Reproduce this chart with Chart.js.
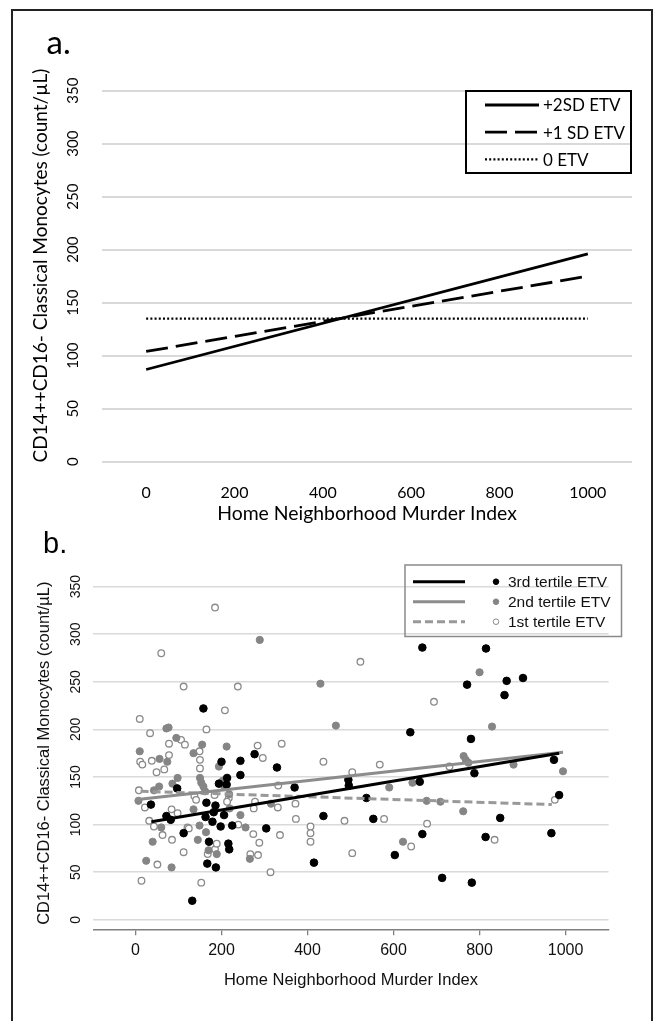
<!DOCTYPE html>
<html>
<head>
<meta charset="utf-8">
<script src="https://cdn.jsdelivr.net/npm/chart.js@4.4.0/dist/chart.umd.min.js"></script>
<style>
  html, body { margin: 0; padding: 0; background: #fff; }
  #frame { position: absolute; left: 11px; top: 9px; width: 642px; height: 1040px; border: 2px solid #222; box-sizing: border-box; }
  canvas { position: absolute; left: 0; }
  #ca { top: 0; }
  #cb { top: 520px; }
</style>
</head>
<body>
<div id="frame"></div>
<canvas id="ca" width="654" height="530"></canvas>
<canvas id="cb" width="654" height="501"></canvas>
<script>
"use strict";

// ---- shared axis ticks ----
var xTickValues = [0, 200, 400, 600, 800, 1000];
var yTickValues = [0, 50, 100, 150, 200, 250, 300, 350];
var xTitle = "Home Neighborhood Murder Index";
var yTitle = "CD14++CD16- Classical Monocytes (count/\u00b5L)";

// ---- panel a: simple slopes ----
var slopeX = [0, 1000];
var sd2Values = [87, 196];
var sd1Values = [104, 175];
var zeroValues = [135, 135];

// ---- panel b: fitted lines ----
var fit3X = [37, 985],  fit3Y = [103, 175];
var fit2X = [0, 994],   fit2Y = [126, 176];
var fit1X = [12, 968],  fit1Y = [135, 121];

// ---- panel b: observations, 3rd tertile ETV ----
var t3X = [158, 277, 200, 244, 329, 244, 213, 194, 212, 97, 36, 165, 186, 182, 163, 206, 179, 72, 82, 112,
           198, 225, 304, 171, 216, 218, 167, 187, 132, 667, 639, 495, 496, 661, 370, 537, 437, 553, 667, 415,
           603, 713, 815, 771, 863, 901, 858, 780, 788, 973, 985, 848, 814, 967, 782];
var t3Y = [222, 174, 166, 167, 160, 152, 149, 143, 142, 138, 121, 123, 120, 113, 108, 110, 103, 109, 105, 91,
           98, 99, 96, 82, 80, 74, 59, 55, 20, 286, 197, 147, 141, 145, 139, 128, 109, 106, 90, 60,
           68, 44, 285, 247, 251, 254, 236, 190, 154, 168, 131, 107, 87, 91, 39];

// ---- 2nd tertile ETV ----
var t2X = [289, 72, 77, 95, 155, 212, 10, 135, 56, 74, 194, 98, 150, 153, 7, 43, 55, 86, 158, 162,
           203, 207, 218, 40, 25, 84, 145, 170, 189, 266, 256, 244, 149, 135, 60, 219, 164, 315, 430, 466,
           590, 644, 677, 709, 622, 800, 829, 763, 768, 774, 879, 994, 762];
var t2Y = [294, 201, 202, 191, 184, 182, 177, 175, 169, 166, 161, 149, 149, 144, 125, 136, 140, 143, 140, 135,
           146, 140, 132, 82, 62, 55, 84, 73, 69, 64, 97, 110, 99, 116, 97, 117, 92, 122, 248, 204,
           139, 144, 125, 124, 82, 260, 203, 172, 168, 165, 163, 156, 114];

// ---- 1st tertile ETV ----
var t1X = [185, 60, 112, 238, 208, 10, 165, 34, 106, 115, 78, 284, 340, 78, 149, 296, 11, 38, 16, 49,
           67, 150, 150, 8, 22, 84, 98, 32, 43, 121, 63, 85, 51, 14, 153, 112, 314, 267, 285, 288,
           274, 336, 331, 275, 278, 239, 124, 184, 185, 189, 168, 217, 213, 332, 372, 373, 437, 407, 407, 407,
           504, 486, 504, 523, 568, 578, 641, 694, 678, 730, 835, 975, 137, 141];
var t1Y = [328, 280, 245, 245, 220, 211, 200, 196, 189, 184, 185, 183, 185, 173, 177, 170, 166, 167, 163, 155,
           158, 168, 159, 136, 118, 116, 112, 104, 98, 97, 89, 84, 58, 41, 39, 71, 50, 69, 68, 81,
           90, 89, 118, 117, 124, 100, 96, 131, 74, 80, 69, 128, 124, 141, 122, 106, 166, 98, 91, 82,
           155, 104, 70, 271, 163, 106, 77, 229, 101, 161, 84, 126, 130, 126];

function pts(xs, ys) {
    return xs.map(function (x, i) { return { x: x, y: ys[i] }; });
}

// legend drawn inside a framed box, built from the datasets
var boxLegend = {
    id: 'boxLegend',
    afterDraw: function (chart, args, o) {
        var ctx = chart.ctx, sets = chart.data.datasets;
        ctx.save();
        ctx.lineWidth = o.borderWidth;
        ctx.strokeStyle = o.borderColor;
        ctx.strokeRect(o.x, o.y, o.w, o.h);
        o.items.forEach(function (it, i) {
            var y = o.rowY + i * o.rowGap;
            var ls = sets[it.line];
            ctx.beginPath();
            ctx.setLineDash(ls.borderDash || []);
            ctx.lineWidth = ls.borderWidth;
            ctx.strokeStyle = ls.borderColor;
            ctx.moveTo(o.lineX0, y);
            ctx.lineTo(o.lineX1, y);
            ctx.stroke();
            ctx.setLineDash([]);
            var lab = ls.label;
            if (it.point !== undefined) {
                var ps = sets[it.point];
                lab = ps.label;
                ctx.beginPath();
                ctx.arc(o.markX, y, o.markR, 0, Math.PI * 2);
                ctx.fillStyle = ps.backgroundColor;
                ctx.fill();
                ctx.lineWidth = 1;
                ctx.strokeStyle = ps.borderColor;
                ctx.stroke();
            }
            ctx.fillStyle = o.color;
            ctx.font = o.font;
            ctx.textBaseline = 'middle';
            ctx.textAlign = 'left';
            ctx.fillText(lab, o.textX, y + 1);
        });
        ctx.restore();
    }
};

var panelTag = {
    id: 'panelTag',
    afterDraw: function (chart, args, o) {
        var ctx = chart.ctx;
        ctx.save();
        ctx.font = o.font;
        ctx.fillStyle = '#000';
        ctx.textBaseline = 'alphabetic';
        ctx.fillText(o.text, o.x, o.y);
        ctx.restore();
    }
};

function keepTicks(values) {
    return function (scale) {
        scale.ticks = values.map(function (v) { return { value: v }; });
    };
}
function plain(v) { return String(v); }

// ---------------- panel a ----------------
var fontA = 'Lato';
new Chart(document.getElementById('ca'), {
    type: 'scatter',
    data: {
        datasets: [{
            label: '+2SD ETV',
            data: pts(slopeX, sd2Values),
            showLine: true, pointRadius: 0,
            borderColor: '#000', borderWidth: 2.8, borderDash: []
        }, {
            label: '+1 SD ETV',
            data: pts(slopeX, sd1Values),
            showLine: true, pointRadius: 0,
            borderColor: '#000', borderWidth: 2.8, borderDash: [22, 8]
        }, {
            label: '0 ETV',
            data: pts(slopeX, zeroValues),
            showLine: true, pointRadius: 0,
            borderColor: '#000', borderWidth: 2.4, borderDash: [2, 2.2]
        }]
    },
    options: {
        responsive: false,
        animation: false,
        layout: { padding: { left: 14, right: 22, top: 69.5, bottom: 0 } },
        plugins: {
            legend: { display: false },
            tooltip: { enabled: false },
            boxLegend: {
                x: 466, y: 91, w: 165, h: 82, borderWidth: 2, borderColor: '#000',
                rowY: 105, rowGap: 27.2, lineX0: 485, lineX1: 539, markX: 0, markR: 0,
                textX: 543, font: '17px Lato', color: '#000',
                items: [{ line: 0 }, { line: 1 }, { line: 2 }]
            },
            panelTag: { text: 'a.', x: 46.5, y: 53.5, font: '33px Lato' }
        },
        scales: {
            x: {
                min: -100, max: 1100,
                afterBuildTicks: keepTicks(xTickValues),
                afterFit: function (s) { s.height = 530 - 461.7; },
                grid: { display: false },
                border: { display: false },
                ticks: { autoSkip: false, maxRotation: 0, padding: 14, color: '#000', font: { family: fontA, size: 16 }, callback: plain },
                title: { display: true, text: xTitle, color: '#000', font: { family: fontA, size: 19.4 }, padding: { top: 0, bottom: 4.4 } }
            },
            y: {
                min: 0, max: 370,
                afterBuildTicks: keepTicks(yTickValues),
                afterFit: function (s) { s.width = 88; },
                grid: { color: '#d9d9d9', lineWidth: 2, drawTicks: false },
                border: { display: false },
                ticks: { autoSkip: false, minRotation: 90, maxRotation: 90, crossAlign: 'center', padding: 15.5, color: '#000', font: { family: fontA, size: 15 }, callback: plain },
                title: { display: true, text: yTitle, color: '#000', font: { family: fontA, size: 19 }, padding: { top: 15.6, bottom: 0 } }
            }
        }
    },
    plugins: [boxLegend, panelTag]
});

// ---------------- panel b ----------------
var fontB = "'Liberation Sans', Arial, sans-serif";
new Chart(document.getElementById('cb'), {
    type: 'scatter',
    data: {
        datasets: [{
            label: '3rd tertile fit',
            data: pts(fit3X, fit3Y),
            showLine: true, pointRadius: 0,
            borderColor: '#000', borderWidth: 3, borderDash: []
        }, {
            label: '2nd tertile fit',
            data: pts(fit2X, fit2Y),
            showLine: true, pointRadius: 0,
            borderColor: '#8c8c8c', borderWidth: 3, borderDash: []
        }, {
            label: '1st tertile fit',
            data: pts(fit1X, fit1Y),
            showLine: true, pointRadius: 0,
            borderColor: '#999999', borderWidth: 3, borderDash: [8, 4]
        }, {
            label: '3rd tertile ETV',
            data: pts(t3X, t3Y),
            pointRadius: 3.8, borderWidth: 1,
            backgroundColor: '#000', borderColor: '#000'
        }, {
            label: '2nd tertile ETV',
            data: pts(t2X, t2Y),
            pointRadius: 3.6, borderWidth: 1,
            backgroundColor: '#858585', borderColor: '#858585'
        }, {
            label: '1st tertile ETV',
            data: pts(t1X, t1Y),
            pointRadius: 3.3, borderWidth: 1.3,
            backgroundColor: '#fff', borderColor: '#8a8a8a'
        }]
    },
    options: {
        responsive: false,
        animation: false,
        layout: { padding: { left: 16, right: 45.4, top: 57.1, bottom: 0 } },
        plugins: {
            legend: { display: false },
            tooltip: { enabled: false },
            boxLegend: {
                x: 405, y: 45, w: 216.5, h: 71.5, borderWidth: 1.5, borderColor: '#8a8a8a',
                rowY: 61.7, rowGap: 20, lineX0: 413, lineX1: 465, markX: 496, markR: 2.8,
                textX: 508, font: "15.5px 'Liberation Sans', Arial, sans-serif", color: '#111',
                items: [{ line: 0, point: 3 }, { line: 1, point: 4 }, { line: 2, point: 5 }]
            },
            panelTag: { text: 'b.', x: 43, y: 33, font: "29px 'Liberation Sans', Arial, sans-serif" }
        },
        scales: {
            x: {
                min: -98, max: 1100,
                afterBuildTicks: keepTicks(xTickValues),
                afterFit: function (s) { s.height = 501 - 409.3; },
                grid: { display: true, drawOnChartArea: false, drawTicks: true, tickLength: 6, color: '#7f7f7f', lineWidth: 1.3 },
                border: { display: true, color: '#7f7f7f', width: 1.5 },
                ticks: { autoSkip: false, maxRotation: 0, padding: 6, color: '#111', font: { family: fontB, size: 16 }, callback: plain },
                title: { display: true, text: xTitle, color: '#111', font: { family: fontB, size: 16.5 }, padding: { top: 0, bottom: 31 } }
            },
            y: {
                min: -10, max: 360,
                afterBuildTicks: keepTicks(yTickValues),
                afterFit: function (s) { s.width = 77.3; },
                grid: { color: '#dadada', lineWidth: 1.5, drawTicks: false },
                border: { display: false },
                ticks: { autoSkip: false, minRotation: 90, maxRotation: 90, crossAlign: 'center', padding: 5.6, color: '#111', font: { family: fontB, size: 14 }, callback: plain },
                title: { display: true, text: yTitle, color: '#111', font: { family: fontB, size: 16.5 }, padding: { top: 19, bottom: 0 } }
            }
        }
    },
    plugins: [boxLegend, panelTag]
});
</script>
</body>
</html>
